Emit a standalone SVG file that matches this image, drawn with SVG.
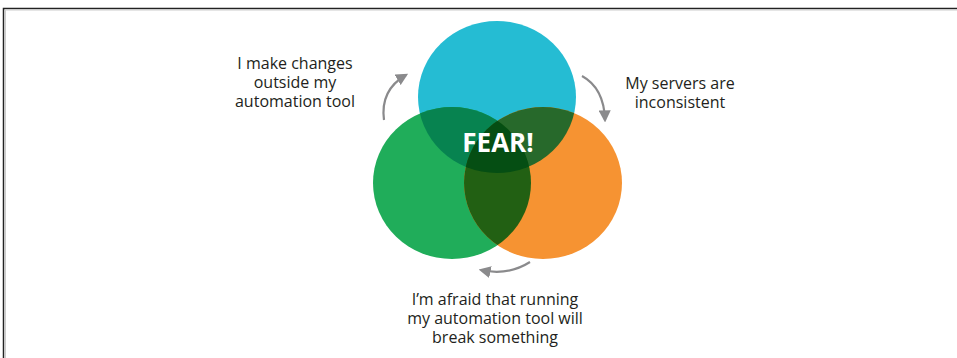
<svg xmlns="http://www.w3.org/2000/svg" width="957" height="358" viewBox="0 0 957 358">
<style>
.lbl{font-family:"Open Sans","Noto Sans",sans-serif;font-size:16px;fill:#231f20;text-anchor:middle}
.fear{font-family:"Open Sans","Noto Sans",sans-serif;font-size:26px;font-weight:bold;fill:#ffffff;text-anchor:middle}
.arc{fill:none;stroke:#8a8a8c;stroke-width:2.2}
</style>
<defs>
<clipPath id="cC"><ellipse cx="497" cy="97" rx="79" ry="76"/></clipPath>
<clipPath id="cG"><ellipse cx="452" cy="183" rx="79" ry="76"/></clipPath>
<marker id="ah" viewBox="0 0 10 10" refX="8" refY="5" markerWidth="5.5" markerHeight="5.5" orient="auto" markerUnits="strokeWidth">
<path d="M0,0 L10,5 L0,10 Z" fill="#8a8a8c"/>
</marker>
</defs>
<rect x="0" y="0" width="957" height="358" fill="#ffffff"/>
<path d="M3.5,358 V8.5 H957" fill="none" stroke="#222" stroke-width="1.5"/>
<path d="M5.5,358 V10 H957" fill="none" stroke="#ccc" stroke-width="1"/>
<g id="circle-cyan"><ellipse cx="497" cy="97" rx="79" ry="76" fill="#25bcd3"/></g>
<g id="circle-green"><ellipse cx="452" cy="183" rx="79" ry="76" fill="#20ad5a"/></g>
<g id="circle-orange"><ellipse cx="543" cy="183" rx="79" ry="76" fill="#f69332"/></g>
<g id="overlaps">
<ellipse cx="452" cy="183" rx="79" ry="76" fill="#078350" clip-path="url(#cC)"/>
<ellipse cx="543" cy="183" rx="79" ry="76" fill="#27692b" clip-path="url(#cC)"/>
<ellipse cx="543" cy="183" rx="79" ry="76" fill="#226013" clip-path="url(#cG)"/>
<g clip-path="url(#cC)"><ellipse cx="543" cy="183" rx="79" ry="76" fill="#054e13" clip-path="url(#cG)"/></g>
</g>
<g id="fear"><text class="fear" x="498" y="152">FEAR!</text></g>
<g id="connectors">
<path class="arc" d="M384,120 Q380,90 406,75" marker-end="url(#ah)"/>
<path class="arc" d="M582,76 Q604,88 605,120" marker-end="url(#ah)"/>
<path class="arc" d="M530,262 Q508,276 481,270" marker-end="url(#ah)"/>
</g>
<g id="label-left">
<text class="lbl" x="295" y="69">I make changes</text>
<text class="lbl" x="295" y="88">outside my</text>
<text class="lbl" x="295" y="107">automation tool</text>
</g>
<g id="label-right">
<text class="lbl" x="680" y="89">My servers are</text>
<text class="lbl" x="680" y="108">inconsistent</text>
</g>
<g id="label-bottom">
<text class="lbl" x="495" y="305">I’m afraid that running</text>
<text class="lbl" x="495" y="324">my automation tool will</text>
<text class="lbl" x="495" y="343">break something</text>
</g>
</svg>
